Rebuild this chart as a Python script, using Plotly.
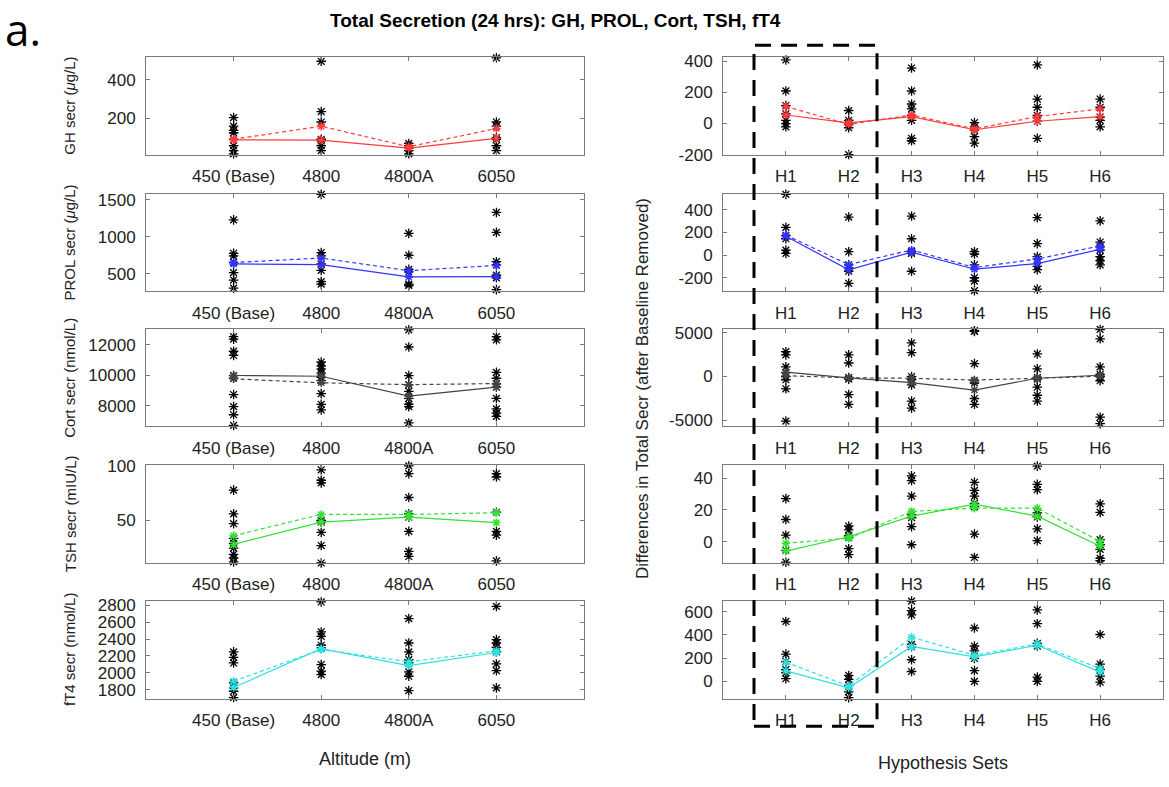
import plotly.graph_objects as go

# ---------------- data ----------------
ALT_LABELS = ["450 (Base)", "4800", "4800A", "6050"]
HYP_LABELS = ["H1", "H2", "H3", "H4", "H5", "H6"]

# Left column: absolute total secretion per altitude (individual subjects)
GH_STARS = [[203, 158, 136, 124, 90, 56, 31, 14],
            [497, 234, 180, 90, 81, 56, 31],
            [68, 56, 44, 31, 14],
            [515, 180, 158, 98, 90, 56, 31]]
GH_MEDIAN = [87, 85, 44, 95]
GH_MEAN = [90, 158, 51, 146]

PROL_STARS = [[1226, 774, 739, 652, 513, 413, 304],
              [1570, 783, 739, 630, 543, 391, 357],
              [1043, 748, 557, 522, 357, 339],
              [1326, 1057, 661, 617, 478, 443, 283]]
PROL_MEDIAN = [630, 620, 455, 460]
PROL_MEAN = [650, 710, 540, 610]

CORT_STARS = [[12535, 12364, 11572, 11294, 9968, 9797, 8727, 7936, 7401, 6700],
              [10866, 10610, 10396, 10139, 9861, 9647, 8791, 8086, 7722],
              [12980, 11850, 9968, 9369, 8941, 8471, 8086, 7936, 6866],
              [12535, 12321, 10182, 9797, 9433, 9220, 8471, 7786, 7508, 7294]]
CORT_MEDIAN = [9980, 9930, 8620, 9220]
CORT_MEAN = [9760, 9500, 9380, 9450]

TSH_STARS = [[77.8, 56, 47, 33.5, 29, 24.6, 19, 15.6, 12],
             [96.4, 86.8, 84.4, 50, 48.5, 39, 27, 11],
             [100, 92.8, 71, 56, 53, 40, 21.6, 17],
             [92.8, 89.8, 57.5, 40, 36.5, 13]]
TSH_MEDIAN = [28, 48.5, 53, 48]
TSH_MEAN = [36, 55.5, 55.5, 57]

FT4_STARS = [[2247, 2183, 2116, 1879, 1820, 1780, 1705],
             [2840, 2484, 2432, 2326, 2294, 2097, 2018, 1978],
             [2642, 2353, 2247, 2156, 2116, 2009, 1958, 1788],
             [2788, 2393, 2353, 2302, 2247, 2104, 2025, 1820]]
FT4_MEDIAN = [1825, 2285, 2085, 2240]
FT4_MEAN = [1900, 2275, 2130, 2260]

# Right column: differences after baseline removed, per hypothesis set
D_GH_STARS = [[410, 210, 116, 63, 21, 0, -21],
              [84, 21, 6, -6, -27, -200],
              [358, 210, 126, 95, 53, 21, -95, -111],
              [6, -21, -42, -84, -126],
              [378, 158, 105, 53, 15, -95],
              [431, 158, 105, 42, 21, -21]]
D_GH_MEDIAN = [55, 5, 45, -40, 15, 45]
D_GH_MEAN = [110, -5, 55, -35, 45, 95]

D_PROL_STARS = [[534, 243, 171, 143, 43, 14],
                [334, 29, -86, -114, -143, -249],
                [343, 143, 29, 14, -143],
                [29, 9, -86, -200, -229, -314],
                [329, 100, -14, -37, -100, -129, -300],
                [300, 114, 71, 43, -14, -49, -86]]
D_PROL_MEDIAN = [165, -130, 25, -125, -75, 50]
D_PROL_MEAN = [175, -85, 45, -110, -35, 80]

D_CORT_STARS = [[2852, 2481, 1111, 444, 0, -370, -1407, -5111],
                [2481, 1555, -111, -296, -2074, -3185],
                [3852, 2741, 0, -370, -963, -2815, -3630],
                [5259, 5185, 1481, -481, -741, -2519, -3185, -5778],
                [2593, 889, -111, -296, -1222, -2148, -2815],
                [5400, 4333, 1111, 259, 0, -481, -4667, -5407]]
D_CORT_MEDIAN = [500, -150, -700, -1550, -200, 150]
D_CORT_MEAN = [100, -150, -200, -400, -200, 50]

D_TSH_STARS = [[27, 13.9, 4, -5.5, -13],
               [9.8, 7.3, 3.7, 2.7, -4.5, -8.2],
               [41.4, 38.4, 28.6, 17, 15, 9.4, -2],
               [37.3, 32.2, 28.6, 24, 22, 4.7, -10],
               [47.5, 36, 32.7, 18, 15.5, 8, 0.6],
               [23.7, 18.4, 1.2, -2, -4.9, -10.6, -12]]
D_TSH_MEDIAN = [-6, 3, 16, 23.5, 16, -3]
D_TSH_MEAN = [-1, 2, 19, 21, 21, 0]

D_FT4_STARS = [[515, 234, 169, 101, 73, 23],
               [51, 17, -34, -90, -140],
               [690, 608, 572, 318, 299, 186, 85],
               [459, 304, 262, 197, 93, 0],
               [614, 496, 327, 304, 37, 0],
               [403, 149, 101, 45, -6]]
D_FT4_MEDIAN = [90, -55, 300, 210, 310, 80]
D_FT4_MEAN = [165, -40, 380, 225, 320, 110]

# ---------------- panel config ----------------
LEFT_PANELS = [
    ("GH secr (<i>μ</i>g/L)", GH_STARS, GH_MEDIAN, GH_MEAN, "#ff3b3b", [10, 520], [200, 400]),
    ("PROL secr (<i>μ</i>g/L)", PROL_STARS, PROL_MEDIAN, PROL_MEAN, "#3333ff", [260, 1580], [500, 1000, 1500]),
    ("Cort secr (nmol/L)", CORT_STARS, CORT_MEDIAN, CORT_MEAN, "#444444", [6650, 13000], [8000, 10000, 12000]),
    ("TSH secr (mIU/L)", TSH_STARS, TSH_MEDIAN, TSH_MEAN, "#33e033", [11, 100.5], [50, 100]),
    ("fT4 secr (nmol/L)", FT4_STARS, FT4_MEDIAN, FT4_MEAN, "#2ee0e0", [1690, 2850], [1800, 2000, 2200, 2400, 2600, 2800]),
]
RIGHT_PANELS = [
    (D_GH_STARS, D_GH_MEDIAN, D_GH_MEAN, "#ff3b3b", [-200, 430], [-200, 0, 200, 400]),
    (D_PROL_STARS, D_PROL_MEDIAN, D_PROL_MEAN, "#3333ff", [-320, 540], [-200, 0, 200, 400]),
    (D_CORT_STARS, D_CORT_MEDIAN, D_CORT_MEAN, "#444444", [-5700, 5400], [-5000, 0, 5000]),
    (D_TSH_STARS, D_TSH_MEDIAN, D_TSH_MEAN, "#33e033", [-13.5, 48], [0, 20, 40]),
    (D_FT4_STARS, D_FT4_MEDIAN, D_FT4_MEAN, "#2ee0e0", [-150, 690], [0, 200, 400, 600]),
]

W, H = 1169, 787
ROWS_PX = [(50, 150), (190, 290), (329, 428), (468, 568), (607, 707)]
LEFT_X_PX = (146, 584)
RIGHT_X_PX = (723, 1163)

FONT = "Liberation Sans, Arial, Helvetica, sans-serif"
AXCOL = "#7a7a7a"
TICK_SIZE = 17

fig = go.Figure()
layout = dict(
    width=W, height=H, margin=dict(l=0, r=0, t=0, b=0),
    paper_bgcolor="white", plot_bgcolor="white", showlegend=False,
    font=dict(family=FONT, size=TICK_SIZE, color="#222"),
)


def ydom(r):
    t, b = ROWS_PX[r]
    return [1 - b / H, 1 - t / H]


def axis_names(idx):
    xa = "xaxis" if idx == 1 else f"xaxis{idx}"
    ya = "yaxis" if idx == 1 else f"yaxis{idx}"
    xr = "x" if idx == 1 else f"x{idx}"
    yr = "y" if idx == 1 else f"y{idx}"
    return xa, ya, xr, yr


def setup_axes(idx, r, xdom, xrange, xticks, xtext, yrange, yticks):
    xa, ya, xr, yr = axis_names(idx)
    common = dict(showline=True, linecolor=AXCOL, linewidth=1, mirror="allticks",
                  ticks="inside", ticklen=4, tickcolor=AXCOL, showgrid=False,
                  zeroline=False, tickfont=dict(size=TICK_SIZE, color="#222", family=FONT))
    layout[xa] = dict(domain=xdom, range=xrange, tickvals=xticks, ticktext=xtext,
                      anchor=yr, ticklabelstandoff=6, **common)
    layout[ya] = dict(domain=ydom(r), range=yrange, tickvals=yticks,
                      ticktext=[str(v) for v in yticks], anchor=xr, ticklabelstandoff=6, **common)
    return xr, yr


def add_series(xr, yr, stars, med, mean, color):
    xs, ys = [], []
    for i, vals in enumerate(stars):
        xs += [i + 1] * len(vals)
        ys += vals
    fig.add_trace(go.Scatter(x=xs, y=ys, mode="markers", xaxis=xr, yaxis=yr, cliponaxis=False,
                             marker=dict(symbol="asterisk-open", size=8, color="black",
                                         line=dict(color="black", width=1.3))))
    cats = list(range(1, len(med) + 1))
    fig.add_trace(go.Scatter(x=cats, y=mean, mode="lines+markers", xaxis=xr, yaxis=yr, cliponaxis=False,
                             line=dict(color=color, width=1.2, dash="4px,3px"),
                             marker=dict(symbol="asterisk-open", size=7, line=dict(color=color, width=1.5))))
    fig.add_trace(go.Scatter(x=cats, y=med, mode="lines+markers", xaxis=xr, yaxis=yr, cliponaxis=False,
                             line=dict(color=color, width=1.2),
                             marker=dict(symbol="asterisk-open", size=7, line=dict(color=color, width=1.5))))


idx = 0
for r in range(5):
    # left column
    idx += 1
    label, stars, med, mean, color, yrange, yticks = LEFT_PANELS[r]
    xr, yr = setup_axes(idx, r, [LEFT_X_PX[0] / W, LEFT_X_PX[1] / W], [0, 5], [1, 2, 3, 4],
                        ALT_LABELS, yrange, yticks)
    add_series(xr, yr, stars, med, mean, color)
    t, b = ROWS_PX[r]
    fig.add_annotation(text=label, xref="paper", yref="paper", x=70 / W, y=1 - (t + b) / 2 / H,
                       textangle=-90, showarrow=False, font=dict(size=15, color="#222", family=FONT),
                       xanchor="center", yanchor="middle")

    # right column
    idx += 1
    stars, med, mean, color, yrange, yticks = RIGHT_PANELS[r]
    xr, yr = setup_axes(idx, r, [RIGHT_X_PX[0] / W, RIGHT_X_PX[1] / W], [0, 7], [1, 2, 3, 4, 5, 6],
                        HYP_LABELS, yrange, yticks)
    add_series(xr, yr, stars, med, mean, color)

fig.update_layout(**layout)

# titles and labels
fig.add_annotation(text="<b>Total Secretion (24 hrs): GH, PROL, Cort, TSH, fT4</b>", xref="paper", yref="paper",
                   x=555 / W, y=1 - 13 / H, showarrow=False, font=dict(size=19, color="black", family=FONT),
                   xanchor="center", yanchor="middle")
fig.add_annotation(text="a.", xref="paper", yref="paper", x=3 / W, y=1 - 22 / H, showarrow=False,
                   font=dict(size=44, color="black", family="Open Sans, Liberation Sans, sans-serif"),
                   xanchor="left", yanchor="middle")
fig.add_annotation(text="Altitude (m)", xref="paper", yref="paper", x=365 / W, y=1 - 769 / H, showarrow=False,
                   font=dict(size=18, color="#222", family=FONT), xanchor="center", yanchor="middle")
fig.add_annotation(text="Hypothesis Sets", xref="paper", yref="paper", x=943 / W, y=1 - 773 / H, showarrow=False,
                   font=dict(size=18, color="#222", family=FONT), xanchor="center", yanchor="middle")
fig.add_annotation(text="Differences in Total Secr (after Baseline Removed)", xref="paper", yref="paper",
                   x=642 / W, y=1 - 390 / H, textangle=-90, showarrow=False,
                   font=dict(size=17, color="#222", family=FONT), xanchor="center", yanchor="middle")

# dashed highlight box around H1-H2
fig.add_shape(type="rect", xref="paper", yref="paper", x0=754 / W, x1=877 / W, y0=1 - 735 / H, y1=1 - 38 / H,
              line=dict(color="black", width=3, dash="16px,10px"), fillcolor="rgba(0,0,0,0)")

fig.write_html("out.html")
